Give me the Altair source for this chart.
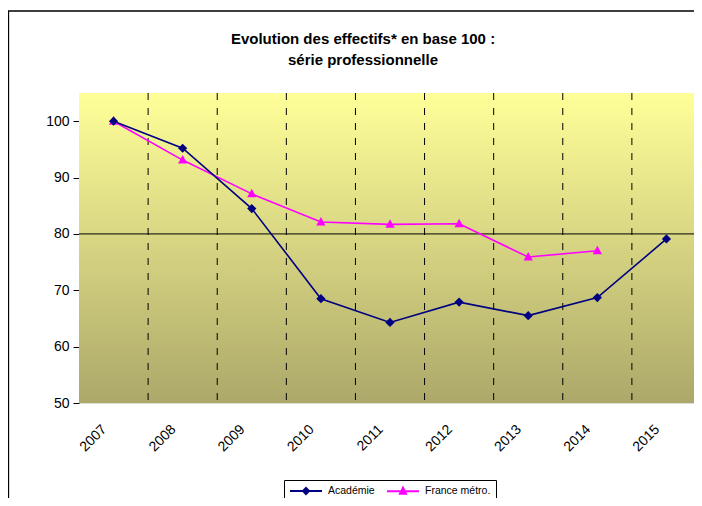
import altair as alt
import pandas as pd

years = ["2007", "2008", "2009", "2010", "2011", "2012", "2013", "2014", "2015"]
academie = [100, 95.2, 84.5, 68.5, 64.3, 67.9, 65.5, 68.7, 79.1]
france = [100, 93.1, 87.1, 82.1, 81.7, 81.8, 75.9, 77.0, None]
series_names = ["Académie", "France métro."]
series_colors = ["#000080", "#FF00FF"]
y_ticks = [50, 60, 70, 80, 90, 100]
title_lines = ["Evolution des effectifs* en base 100 :", "série professionnelle"]

rows = []
for y, a, f in zip(years, academie, france):
    rows.append({"year": y, "series": series_names[0], "value": a})
    if f is not None:
        rows.append({"year": y, "series": series_names[1], "value": f})
df = pd.DataFrame(rows)

W, H = 622, 310
FONT = "Liberation Sans"

xscale = alt.Scale(domain=years, paddingInner=0, paddingOuter=0)
xaxis = alt.Axis(
    title=None, labelAngle=315, labelAlign="right", labelBaseline="middle",
    labelPadding=24, labelOffset=-9, ticks=False, domain=False, grid=False,
    labelFontSize=14, labelColor="#000000", labelFont=FONT,
)
xenc = alt.X("year:O", scale=xscale, axis=xaxis)
yscale = alt.Scale(domain=[50, 105], nice=False, zero=False)
yenc = alt.Y(
    "value:Q", scale=yscale,
    axis=alt.Axis(
        title=None, values=y_ticks, grid=False, domain=False, tickSize=6,
        tickColor="#000000", labelPadding=4, labelFontSize=14,
        labelColor="#000000", labelFont=FONT,
    ),
)

one = alt.Data(values=[{"k": 1}])

outer = alt.Chart(one).mark_rect(fill=None, stroke="#000000", strokeWidth=1.3).encode(
    x=alt.value(-70.5), x2=alt.value(720), y=alt.value(-82), y2=alt.value(520)
)

bg = alt.Chart(one).mark_rect(
    color=alt.Gradient(
        gradient="linear", x1=0, y1=0, x2=0, y2=1,
        stops=[alt.GradientStop(color="#FFFF99", offset=0),
               alt.GradientStop(color="#ACA86A", offset=1)],
    )
).encode(x=alt.value(0), x2=alt.value(W), y=alt.value(0), y2=alt.value(H))

base = alt.Chart(df)
acad_only = base.transform_filter(alt.datum.series == series_names[0])
fr_only = base.transform_filter(alt.datum.series == series_names[1])

grid_rules = acad_only.transform_filter(alt.datum.year != years[0]).mark_rule(
    color="#000000", strokeWidth=1, strokeDash=[7, 8]
).encode(x=alt.X("year:O", scale=xscale, bandPosition=0, axis=xaxis))

axes_layer = base.mark_point(opacity=0).encode(x=xenc, y=yenc)

rule80 = alt.Chart(one).mark_rule(color="#000000", strokeWidth=1).encode(
    y=alt.datum(80, scale=yscale)
)

line_a = acad_only.mark_line(color=series_colors[0], strokeWidth=1.6).encode(x=xenc, y=yenc)
line_f = fr_only.mark_line(color=series_colors[1], strokeWidth=1.6).encode(x=xenc, y=yenc)
pts_a = acad_only.mark_point(
    shape="diamond", filled=True, size=85, color=series_colors[0], opacity=1).encode(x=xenc, y=yenc)
pts_f = fr_only.mark_point(
    shape="M0,-1.1L1,0.75L-1,0.75Z", filled=True, size=85, color=series_colors[1], opacity=1).encode(x=xenc, y=yenc)

leg_shapes = [
    "M-1,0L5.4,0M2.2,-0.6L2.8,0L2.2,0.6L1.6,0Z",
    "M-1,0L5.4,0M2.2,-0.7L2.8,0.5L1.6,0.5Z",
]
leg_def = alt.Legend(
    title=None, orient="none", legendX=205, legendY=387, direction="horizontal",
    padding=5, strokeColor="#000000", fillColor="#FFFFFF", labelOffset=27,
    columnPadding=8, symbolSize=100, symbolStrokeWidth=2, labelFontSize=10.5,
    labelFont=FONT, labelColor="#000000",
)
legend_layer = base.transform_filter("false").mark_point(filled=True, opacity=1).encode(
    fill=alt.Fill("series:N", scale=alt.Scale(domain=series_names, range=series_colors), legend=leg_def),
    stroke=alt.Stroke("series:N", scale=alt.Scale(domain=series_names, range=series_colors), legend=leg_def),
    shape=alt.Shape("series:N", scale=alt.Scale(domain=series_names, range=leg_shapes), legend=leg_def),
)

title1 = alt.Chart(one).mark_text(
    text=title_lines[0], font=FONT, fontSize=15, fontWeight="bold", color="#000000",
    align="center", baseline="middle").encode(x=alt.value(284), y=alt.value(-54))
title2 = alt.Chart(one).mark_text(
    text=title_lines[1], font=FONT, fontSize=15, fontWeight="bold", color="#000000",
    align="center", baseline="middle").encode(x=alt.value(284), y=alt.value(-33))

chart = alt.layer(
    outer, bg, grid_rules, axes_layer, rule80, line_f, line_a, pts_f, pts_a,
    legend_layer, title1, title2
).properties(
    width=W, height=H,
    autosize=alt.AutoSizeParams(type="none"),
    padding={"left": 71, "top": 85, "right": -7, "bottom": 95},
).configure_view(stroke="#707070", strokeWidth=1.2).configure(background="#FFFFFF")

chart.save("out.html", embed_options={"renderer": "svg", "actions": False})
